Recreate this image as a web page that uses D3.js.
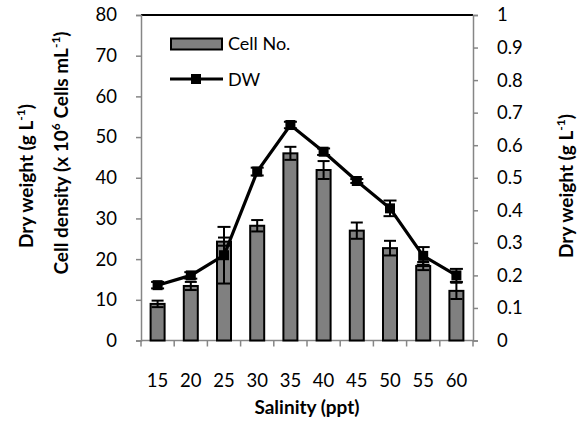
<!DOCTYPE html>
<html>
<head>
<meta charset="utf-8">
<script src="https://cdn.jsdelivr.net/npm/d3@7"></script>
<style>
  body { margin: 0; background: #fff; }
  svg { font-family: Lato, "Noto Sans", sans-serif; }
</style>
</head>
<body>
<svg id="chart" width="579" height="432"></svg>
<script>
// Salinity treatments (ppt)
const salinity = ["15", "20", "25", "30", "35", "40", "45", "50", "55", "60"];
// Cell density (x 10^6 cells mL-1) and its standard error
const cellNo    = [9.0, 13.4, 24.3, 28.2, 46.0, 41.9, 27.0, 22.7, 18.3, 12.2];
const cellNoErr = [0.8, 1.0, 1.0, 1.4, 1.6, 2.2, 2.0, 1.8, 1.0, 2.0];
// Dry weight (g L-1) and its standard error
const dw    = [0.170, 0.200, 0.262, 0.519, 0.662, 0.580, 0.490, 0.406, 0.260, 0.200];
const dwErr = [0.010, 0.010, 0.087, 0.012, 0.010, 0.010, 0.006, 0.024, 0.027, 0.020];
// Axis ticks
const leftTicks  = [0, 10, 20, 30, 40, 50, 60, 70, 80];
const rightTicks = [0, 0.1, 0.2, 0.3, 0.4, 0.5, 0.6, 0.7, 0.8, 0.9, 1];

const svg = d3.select("#chart");
const plot = { left: 141, right: 473, top: 15, bottom: 340.5 };

const x = d3.scaleBand().domain(salinity).range([plot.left, plot.right]);
const yL = d3.scaleLinear().domain([0, 80]).range([plot.bottom, plot.top]);
const yR = d3.scaleLinear().domain([0, 1]).range([plot.bottom, plot.top]);

const axisGrey = "#868686";
const barW = 14;
const tickFont = 18.5;
const titleFont = 19;

// Top frame line
svg.append("line")
  .attr("x1", plot.left).attr("x2", plot.right)
  .attr("y1", plot.top).attr("y2", plot.top)
  .attr("stroke", "#000").attr("stroke-width", 2);

// Left axis
const gL = svg.append("g").attr("transform", `translate(${plot.left},0)`)
  .call(d3.axisLeft(yL).tickValues(leftTicks).tickSize(5).tickPadding(19).tickFormat(d3.format("d")));
// Right axis
const gR = svg.append("g").attr("transform", `translate(${plot.right},0)`)
  .call(d3.axisRight(yR).tickValues(rightTicks).tickSize(5).tickPadding(19).tickFormat(d => d === 0 || d === 1 ? String(d) : d3.format(".1f")(d)));
// Bottom axis: ticks at category boundaries
const gB = svg.append("g").attr("transform", `translate(0,${plot.bottom})`)
  .call(d3.axisBottom(x).tickSize(0).tickPadding(33));
gB.selectAll(".tick")
  .append("line")
  .attr("x1", -x.bandwidth() / 2).attr("x2", -x.bandwidth() / 2)
  .attr("y1", 0).attr("y2", 6)
  .attr("stroke", axisGrey).attr("stroke-width", 1.5);
gB.append("line")
  .attr("x1", plot.right).attr("x2", plot.right).attr("y1", 0).attr("y2", 6)
  .attr("stroke", axisGrey).attr("stroke-width", 1.5);

[gL, gR, gB].forEach(g => {
  g.select(".domain").attr("stroke", axisGrey).attr("stroke-width", 1.5);
  g.selectAll(".tick line").attr("stroke", axisGrey).attr("stroke-width", 1.5);
  g.selectAll("text").attr("font-family", "Lato, sans-serif").attr("font-size", tickFont).attr("fill", "#000");
});
gB.select(".domain").attr("d", `M${plot.left},0H${plot.right}`);

// Bars for cell density
svg.append("g").selectAll("rect")
  .data(cellNo)
  .join("rect")
  .attr("x", (d, i) => x(salinity[i]) + x.bandwidth() / 2 - barW / 2)
  .attr("width", barW)
  .attr("y", d => yL(d))
  .attr("height", d => yL(0) - yL(d))
  .attr("fill", "#808080")
  .attr("stroke", "#000")
  .attr("stroke-width", 2);

function errorBars(g, vals, errs, scale, cap) {
  const sel = g.selectAll("g").data(vals).join("g")
    .attr("transform", (d, i) => `translate(${x(salinity[i]) + x.bandwidth() / 2},0)`);
  sel.append("line")
    .attr("y1", (d, i) => scale(d - errs[i])).attr("y2", (d, i) => scale(d + errs[i]));
  sel.append("line")
    .attr("x1", -cap / 2).attr("x2", cap / 2)
    .attr("y1", (d, i) => scale(d + errs[i])).attr("y2", (d, i) => scale(d + errs[i]));
  sel.append("line")
    .attr("x1", -cap / 2).attr("x2", cap / 2)
    .attr("y1", (d, i) => scale(d - errs[i])).attr("y2", (d, i) => scale(d - errs[i]));
  sel.selectAll("line").attr("stroke", "#000").attr("stroke-width", 2);
}
errorBars(svg.append("g"), cellNo, cellNoErr, yL, 12);

// Dry weight line
const line = d3.line()
  .x((d, i) => x(salinity[i]) + x.bandwidth() / 2)
  .y(d => yR(d));
svg.append("path")
  .datum(dw)
  .attr("d", line)
  .attr("fill", "none")
  .attr("stroke", "#000")
  .attr("stroke-width", 3.2);
errorBars(svg.append("g"), dw, dwErr, yR, 13);
svg.append("g").selectAll("rect")
  .data(dw)
  .join("rect")
  .attr("x", (d, i) => x(salinity[i]) + x.bandwidth() / 2 - 5)
  .attr("y", d => yR(d) - 5)
  .attr("width", 10).attr("height", 10)
  .attr("fill", "#000");

// Legend
const leg = svg.append("g");
leg.append("rect").attr("x", 171).attr("y", 38.5).attr("width", 51).attr("height", 11)
  .attr("fill", "#808080").attr("stroke", "#000").attr("stroke-width", 2);
leg.append("text").attr("x", 228).attr("y", 50).attr("font-size", 18).text("Cell No.");
leg.append("line").attr("x1", 170).attr("x2", 223).attr("y1", 79).attr("y2", 79)
  .attr("stroke", "#000").attr("stroke-width", 3.2);
leg.append("rect").attr("x", 191).attr("y", 74).attr("width", 10).attr("height", 10).attr("fill", "#000");
leg.append("text").attr("x", 228).attr("y", 85.5).attr("font-size", 18).text("DW");

// Axis titles
function rotTitle(xPos, yCenter, parts) {
  const t = svg.append("text")
    .attr("transform", `translate(${xPos},${yCenter}) rotate(-90)`)
    .attr("text-anchor", "middle")
    .attr("font-weight", "bold")
    .attr("font-size", titleFont);
  parts.forEach(p => {
    const s = t.append("tspan").text(p.t);
    if (p.sup) s.attr("font-size", 12).attr("dy", -8);
    else if (p.after) s.attr("dy", 8);
  });
  return t;
}
rotTitle(33, 176, [{ t: "Dry weight (g L" }, { t: "-1", sup: true }, { t: ")", after: true }]);
rotTitle(68, 153, [{ t: "Cell density (x 10" }, { t: "6", sup: true }, { t: " Cells mL", after: true }, { t: "-1", sup: true }, { t: ")", after: true }]);
rotTitle(573, 186, [{ t: "Dry weight (g L" }, { t: "-1", sup: true }, { t: ")", after: true }]);

svg.append("text")
  .attr("x", (plot.left + plot.right) / 2).attr("y", 414)
  .attr("text-anchor", "middle")
  .attr("font-weight", "bold").attr("font-size", titleFont)
  .text("Salinity (ppt)");
</script>
</body>
</html>
